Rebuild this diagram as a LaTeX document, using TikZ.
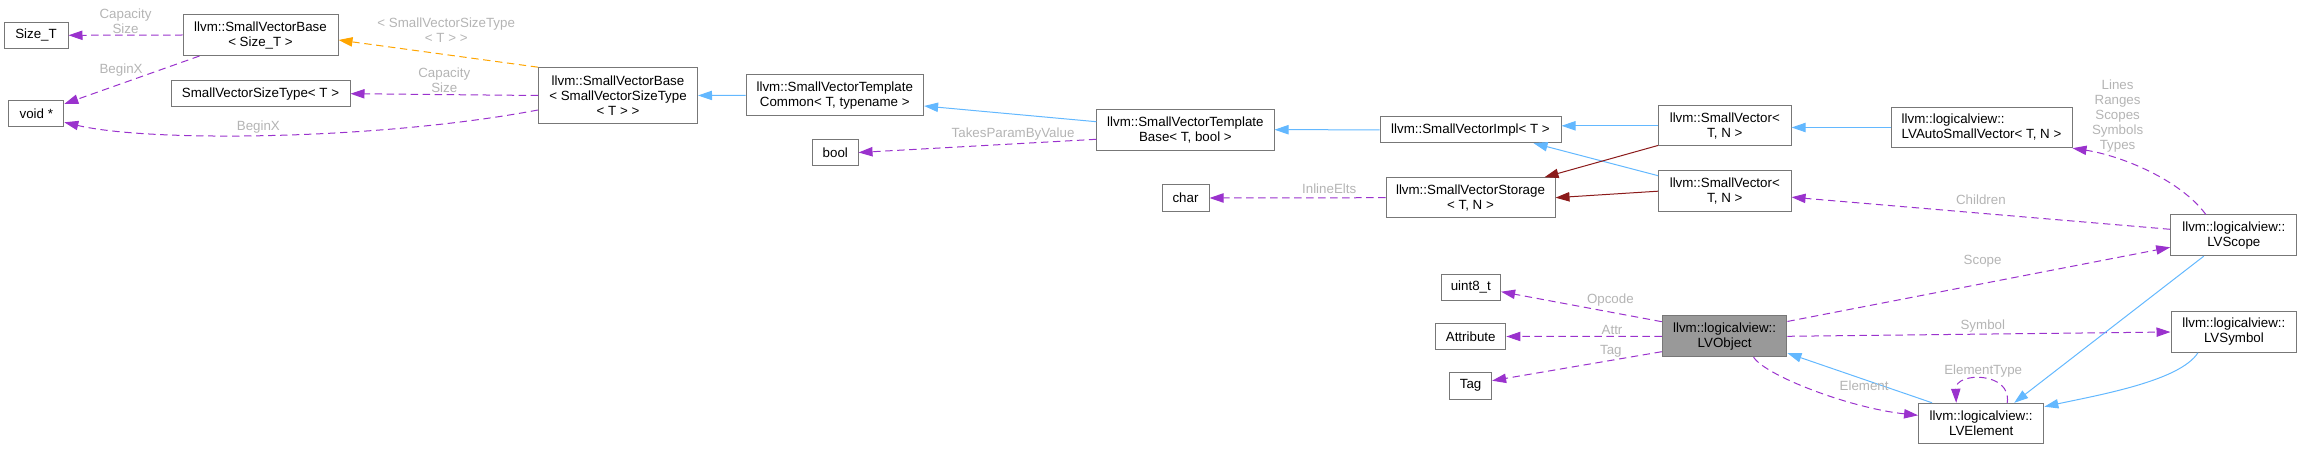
\documentclass[tikz,border=0pt]{standalone}
\usepackage{fontspec}
\setmainfont{Liberation Sans}
\usetikzlibrary{arrows.meta,calc}
\definecolor{edgeblue}{HTML}{63B8FF}
\definecolor{edgepurple}{HTML}{9A32CD}
\definecolor{edgeorange}{HTML}{FFA500}
\definecolor{edgered}{HTML}{8B1A1A}
\definecolor{boxgray}{HTML}{777777}
\definecolor{curfill}{HTML}{999999}
\definecolor{lblgray}{HTML}{B4B4B4}
\tikzset{
  cls/.style 2 args={draw=boxgray,fill=white,line width=0.75pt,inner sep=0pt,align=center,minimum width=#1*0.75pt,minimum height=#2*0.75pt,font=\fontsize{10pt}{11.25pt}\selectfont},
  cur/.style={fill=curfill},
  lbl/.style={text=lblgray,inner sep=1pt,align=center,font=\fontsize{10pt}{11.25pt}\selectfont},
  inh/.style={-{Triangle[length=10.5pt,width=7pt]},line width=0.75pt,edgeblue},
  prv/.style={-{Triangle[length=10.5pt,width=7pt]},line width=0.75pt,edgered},
  mem/.style={-{Triangle[length=10.5pt,width=7pt]},line width=0.75pt,edgepurple,dash pattern=on 5.5pt off 3.5pt},
  tpl/.style={-{Triangle[length=10.5pt,width=7pt]},line width=0.75pt,edgeorange,dash pattern=on 5.5pt off 3.5pt},
}
\begin{document}
\begin{tikzpicture}[x=0.75pt,y=-0.75pt]
  \useasboundingbox (0,0) rectangle (2302,449);
  \node[cls={64}{26}] (sizet) at (36,35.3) {Size\_T};
  \node[cls={155}{41}] (svbsz) at (260.5,35) {llvm::SmallVectorBase\\< Size\_T >};
  \node[cls={55}{26}] (voidp) at (36.3,113.8) {void *};
  \node[cls={179}{26}] (svst) at (260.5,93.7) {SmallVectorSizeType< T >};
  \node[cls={159}{55.6}] (svbsvst) at (618,95.5) {llvm::SmallVectorBase\\< SmallVectorSizeType\\< T > >};
  \node[cls={177.6}{40.7}] (svtc) at (834.8,95.3) {llvm::SmallVectorTemplate\\Common< T, typename >};
  \node[cls={45.5}{26.4}] (boolt) at (835.3,152.5) {bool};
  \node[cls={177.3}{40.7}] (svtb) at (1185.4,129.7) {llvm::SmallVectorTemplate\\Base< T, bool >};
  \node[cls={47}{26}] (chart) at (1185.5,198) {char};
  \node[cls={181}{25.7}] (svimpl) at (1470.5,129.8) {llvm::SmallVectorImpl< T >};
  \node[cls={169}{40}] (svstor) at (1470.5,197.7) {llvm::SmallVectorStorage\\< T, N >};
  \node[cls={132.5}{40.3}] (svtop) at (1724.8,125.8) {llvm::SmallVector<\\T, N >};
  \node[cls={132.5}{41}] (svbot) at (1724.8,191.2) {llvm::SmallVector<\\T, N >};
  \node[cls={181}{40.4},align=left] (lvauto) at (1981.5,127.5) {llvm::logicalview::\\LVAutoSmallVector< T, N >};
  \node[cls={126.3}{40.7}] (lvscope) at (2233.8,235.3) {llvm::logicalview::\\LVScope};
  \node[cls={59.6}{26}] (uint8) at (1470.8,287.3) {uint8\_t};
  \node[cls={70.3}{25.6}] (attr) at (1470.7,336.5) {Attribute};
  \node[cls={42}{26.7}] (tag) at (1470.6,385.7) {Tag};
  \node[cls={124.7}{40.7},cur] (lvobj) at (1724.6,336.3) {llvm::logicalview::\\LVObject};
  \node[cls={125.8}{40.6}] (lvsym) at (2233.9,332) {llvm::logicalview::\\LVSymbol};
  \node[cls={125.3}{40}] (lvelem) at (1981.2,423.3) {llvm::logicalview::\\LVElement};
  \draw[mem] (svbsz.west) -- node[lbl,above,pos=0.5]{Capacity\\Size} (sizet.east);
  \draw[mem] ($(svbsz.south west)+(17,0)$) -- node[lbl,above=4pt,pos=0.58]{BeginX} (voidp);
  \draw[mem] (svbsvst.west) -- node[lbl,above,pos=0.5]{Capacity\\Size} (svst.east);
  \draw[mem] ($(svbsvst.west)+(0,14.5)$) .. controls +(-158.6,30) and +(86.4,20.3) .. node[lbl,above,pos=0.53]{BeginX} ($(voidp.south east)+(0,-5)$);
  \draw[tpl] (svbsvst.north west) -- node[lbl,above=8pt,pos=0.46]{< SmallVectorSizeType\\< T > >} ($(svbsz.east)+(0,5)$);
  \draw[inh] (svtc.west) -- (svbsvst.east);
  \draw[inh] ($(svtb.west)+(0,-8)$) -- ($(svtc.east)+(0,10.7)$);
  \draw[mem] ($(svtb.west)+(0,9.6)$) -- node[lbl,above=1pt,pos=0.35]{TakesParamByValue} (boolt.east);
  \draw[inh] (svimpl.west) -- (svtb.east);
  \draw[inh] (svtop.west) -- (svtop.west -| svimpl.east);
  \draw[inh] ($(svbot.west)+(0,-15.5)$) -- ($(svimpl.south east)+(-28,0)$);
  \draw[prv] ($(svtop.south west)+(0,-1)$) -- ($(svstor.north east)+(-11,0)$);
  \draw[prv] (svbot.west) -- (svstor.east);
  \draw[mem] (svstor.west) -- node[lbl,above=1.5pt,pos=0.32]{InlineElts} (chart.east);
  \draw[inh] (lvauto.west) -- (lvauto.west -| svtop.east);
  \draw[mem] ($(lvscope.north)+(-28,0)$) .. controls +(-25.8,-35) and +(48,7.3) .. node[lbl,above=4pt,pos=0.7]{Lines\\Ranges\\Scopes\\Symbols\\Types} (lvauto.south east);
  \draw[mem] ($(lvscope.west)+(0,-6)$) -- node[lbl,above=5pt,pos=0.5]{Children} ($(svbot.east)+(0,6)$);
  \draw[mem] ($(lvobj.north east)+(0,6)$) -- node[lbl,above=11pt,pos=0.51]{Scope} ($(lvscope.west)+(0,12)$);
  \draw[mem] ($(lvobj.west)+(0,-14.6)$) -- node[lbl,above=3pt,pos=0.32]{Opcode} ($(uint8.east)+(0,4.4)$);
  \draw[mem] (lvobj.west) -- node[lbl,above,pos=0.32]{Attr} (attr.east);
  \draw[mem] ($(lvobj.west)+(0,15.4)$) -- node[lbl,above=1pt,pos=0.3]{Tag} ($(tag.east)+(0,-5)$);
  \draw[mem] (lvobj.east) -- node[lbl,above,pos=0.51]{Symbol} (lvsym.west);
  \draw[inh] ($(lvelem.north west)+(14,0)$) -- ($(lvobj.south east)+(0,-4)$);
  \draw[mem] ($(lvobj.south)+(29,0)$) .. controls +(11.4,18.3) and +(-68.5,-7.3) .. node[lbl,above right=3pt,pos=0.6]{Element} ($(lvelem.west)+(0,-8)$);
  \draw[mem] ($(lvelem.north)+(26,0)$) .. controls +(5,-31.3) and +(-1,-31.3) .. node[lbl,above,pos=0.5]{ElementType} ($(lvelem.north)+(-25,0)$);
  \draw[inh] ($(lvscope.south)+(-30,0)$) -- ($(lvelem.north)+(33,0)$);
  \draw[inh] ($(lvsym.south)+(-36,0)$) .. controls +(-18,28) and +(56,-12) .. ($(lvelem.east)+(0,-16.6)$);
\end{tikzpicture}
\end{document}
